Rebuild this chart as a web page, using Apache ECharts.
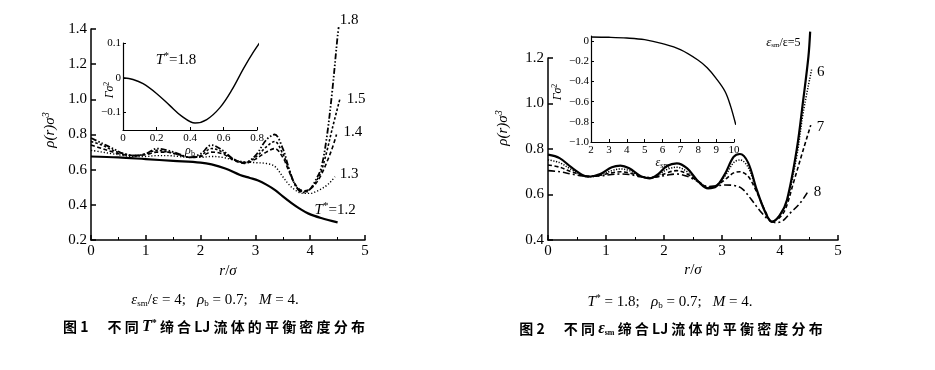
<!DOCTYPE html>
<html><head><meta charset="utf-8">
<script src="https://cdn.jsdelivr.net/npm/echarts@6/dist/echarts.min.js"></script>
<style>html,body{margin:0;padding:0;background:#fff}#c{width:935px;height:370px}</style>
</head><body><div id="c"></div>
<script>
// ---------- Figure 1: different T* ----------
const xTicksMain = [0, 1, 2, 3, 4, 5];
const yTicksFig1 = [0.2, 0.4, 0.6, 0.8, 1.0, 1.2, 1.4];
const rT12 = [0, 0.5, 1.0, 1.5, 2.0, 2.2, 2.45, 2.72, 2.9, 3.05, 3.2, 3.36, 3.5, 3.66, 3.8, 3.97, 4.2, 4.5];
const rhoT12 = [0.675, 0.67, 0.66, 0.65, 0.64, 0.63, 0.607, 0.57, 0.553, 0.538, 0.515, 0.484, 0.448, 0.41, 0.38, 0.35, 0.325, 0.30];
const rT13 = [0, 0.2, 0.4, 0.6, 0.8, 1.0, 1.2, 1.4, 1.6, 1.8, 2.0, 2.2, 2.4, 2.6, 2.8, 3.0, 3.2, 3.35, 3.5, 3.6, 3.7, 3.8, 3.9, 4.0, 4.1, 4.2, 4.3, 4.4, 4.45];
const rhoT13 = [0.71, 0.70, 0.69, 0.68, 0.675, 0.675, 0.68, 0.68, 0.675, 0.67, 0.67, 0.675, 0.67, 0.655, 0.645, 0.64, 0.635, 0.62, 0.56, 0.52, 0.49, 0.47, 0.465, 0.465, 0.475, 0.49, 0.51, 0.54, 0.56];
const rT14 = [0, 0.2, 0.4, 0.6, 0.8, 1.0, 1.2, 1.4, 1.6, 1.8, 2.0, 2.2, 2.4, 2.6, 2.8, 3.0, 3.2, 3.35, 3.5, 3.6, 3.7, 3.8, 3.9, 4.0, 4.1, 4.2, 4.3, 4.4, 4.48];
const rhoT14 = [0.74, 0.72, 0.70, 0.685, 0.68, 0.685, 0.70, 0.70, 0.685, 0.67, 0.675, 0.70, 0.69, 0.655, 0.635, 0.66, 0.70, 0.72, 0.67, 0.60, 0.53, 0.49, 0.48, 0.49, 0.52, 0.57, 0.64, 0.72, 0.80];
const rT15 = [0, 0.2, 0.4, 0.6, 0.8, 1.0, 1.2, 1.4, 1.6, 1.8, 2.0, 2.2, 2.4, 2.6, 2.8, 3.0, 3.2, 3.35, 3.5, 3.6, 3.7, 3.8, 3.9, 4.0, 4.1, 4.2, 4.3, 4.4, 4.54];
const rhoT15 = [0.76, 0.74, 0.71, 0.69, 0.68, 0.69, 0.71, 0.70, 0.685, 0.67, 0.68, 0.72, 0.70, 0.66, 0.64, 0.67, 0.73, 0.76, 0.69, 0.61, 0.53, 0.485, 0.475, 0.49, 0.53, 0.59, 0.70, 0.83, 1.0];
const rT18 = [0, 0.2, 0.4, 0.6, 0.8, 1.0, 1.2, 1.4, 1.6, 1.8, 2.0, 2.2, 2.4, 2.6, 2.8, 3.0, 3.2, 3.35, 3.5, 3.6, 3.7, 3.8, 3.9, 4.0, 4.1, 4.2, 4.3, 4.4, 4.5, 4.52];
const rhoT18 = [0.78, 0.75, 0.72, 0.69, 0.68, 0.69, 0.72, 0.71, 0.69, 0.67, 0.69, 0.74, 0.71, 0.66, 0.64, 0.68, 0.77, 0.80, 0.72, 0.62, 0.53, 0.48, 0.47, 0.49, 0.54, 0.61, 0.78, 1.04, 1.36, 1.41];
// inset 1: Gamma vs rho_b
const inset1XTicks = [0, 0.2, 0.4, 0.6, 0.8];
const inset1YTicks = [-0.1, 0, 0.1];
const rhoB = [0, 0.06, 0.12, 0.2, 0.28, 0.35, 0.43, 0.5, 0.58, 0.65, 0.72, 0.78, 0.83];
const gamma1 = [0, -0.005, -0.017, -0.045, -0.08, -0.11, -0.13, -0.12, -0.085, -0.035, 0.027, 0.075, 0.11];

// ---------- Figure 2: different eps_sm ----------
const yTicksFig2 = [0.4, 0.6, 0.8, 1.0, 1.2];
const rE5 = [0, 0.2, 0.4, 0.6, 0.7, 0.9, 1.1, 1.25, 1.4, 1.6, 1.75, 1.9, 2.05, 2.22, 2.4, 2.6, 2.76, 2.9, 3.05, 3.2, 3.31, 3.45, 3.6, 3.75, 3.86, 4.0, 4.12, 4.29, 4.4, 4.49, 4.52];
const rhoE5 = [0.775, 0.76, 0.72, 0.685, 0.678, 0.69, 0.72, 0.727, 0.715, 0.68, 0.671, 0.69, 0.725, 0.737, 0.715, 0.655, 0.627, 0.635, 0.69, 0.765, 0.778, 0.74, 0.62, 0.52, 0.48, 0.51, 0.576, 0.80, 1.015, 1.206, 1.316];
const rE6 = [0, 0.2, 0.4, 0.6, 0.7, 0.9, 1.1, 1.25, 1.4, 1.6, 1.75, 1.9, 2.05, 2.22, 2.4, 2.6, 2.76, 2.9, 3.05, 3.2, 3.31, 3.45, 3.6, 3.75, 3.86, 4.0, 4.12, 4.29, 4.4, 4.55];
const rhoE6 = [0.752, 0.74, 0.71, 0.685, 0.678, 0.685, 0.705, 0.712, 0.705, 0.68, 0.672, 0.685, 0.71, 0.72, 0.70, 0.655, 0.63, 0.64, 0.68, 0.74, 0.752, 0.72, 0.615, 0.52, 0.48, 0.51, 0.57, 0.77, 0.96, 1.155];
const rE7 = [0, 0.2, 0.4, 0.6, 0.7, 0.9, 1.1, 1.25, 1.4, 1.6, 1.75, 1.9, 2.05, 2.22, 2.4, 2.6, 2.76, 2.9, 3.05, 3.2, 3.31, 3.45, 3.6, 3.75, 3.86, 4.0, 4.1, 4.23, 4.4, 4.53];
const rhoE7 = [0.73, 0.72, 0.70, 0.685, 0.68, 0.685, 0.695, 0.70, 0.695, 0.68, 0.673, 0.68, 0.695, 0.705, 0.69, 0.655, 0.632, 0.64, 0.665, 0.695, 0.70, 0.68, 0.61, 0.525, 0.482, 0.50, 0.54, 0.65, 0.796, 0.905];
const rE8 = [0, 0.2, 0.4, 0.6, 0.7, 0.9, 1.1, 1.25, 1.4, 1.6, 1.75, 1.9, 2.05, 2.22, 2.4, 2.6, 2.76, 2.9, 3.05, 3.2, 3.35, 3.5, 3.65, 3.8, 3.94, 4.05, 4.17, 4.34, 4.48];
const rhoE8 = [0.705, 0.70, 0.69, 0.682, 0.68, 0.682, 0.688, 0.69, 0.688, 0.678, 0.675, 0.678, 0.685, 0.69, 0.68, 0.655, 0.635, 0.638, 0.642, 0.64, 0.625, 0.58, 0.53, 0.49, 0.476, 0.485, 0.517, 0.56, 0.612];
// inset 2: Gamma vs eps_sm
const inset2XTicks = [2, 3, 4, 5, 6, 7, 8, 9, 10];
const inset2YTicks = [-1.0, -0.8, -0.6, -0.4, -0.2, 0];
const epsSm = [2, 3, 4, 5, 6, 7, 8, 8.5, 9, 9.5, 9.8, 10.1];
const gamma2 = [0.04, 0.037, 0.03, 0.014, -0.026, -0.085, -0.19, -0.265, -0.37, -0.50, -0.64, -0.83];

const pairs = (r, v) => r.map((x, i) => [x, v[i]]);
const SERIF = '"Liberation Serif","DejaVu Serif",serif';
const CJK = '"Noto Sans CJK SC",sans-serif';
const minus = s => String(s).replace('-', '\u2212');

function mainAxes(gridIndex, yTicks, ymin, ymax) {
  return {
    x: {
      type: 'value', gridIndex, min: 0, max: 5, interval: 1,
      axisLine: { onZero: false, lineStyle: { color: '#000', width: 1.5 } },
      axisTick: { inside: true, length: 5, lineStyle: { color: '#000', width: 1.5 } },
      minorTick: { show: true, splitNumber: 2, length: 3, lineStyle: { color: '#000' } },
      splitLine: { show: false },
      axisLabel: { fontFamily: SERIF, fontSize: 15, color: '#000', margin: 4, showMinLabel: true, showMaxLabel: true }
    },
    y: {
      type: 'value', gridIndex, min: ymin, max: ymax, interval: 0.2,
      axisLine: { show: true, onZero: false, lineStyle: { color: '#000', width: 1.5 } },
      axisTick: { show: true, inside: true, length: 5, lineStyle: { color: '#000', width: 1.5 } },
      splitLine: { show: false },
      axisLabel: { fontFamily: SERIF, fontSize: 15, color: '#000', margin: 4, formatter: v => v.toFixed(1) }
    }
  };
}
const m1 = mainAxes(0, yTicksFig1, 0.2, 1.4);
const m2 = mainAxes(2, yTicksFig2, 0.4, 1.2);

const insetX1 = {
  type: 'value', gridIndex: 1, min: 0, max: 0.8, interval: 0.2,
  axisLine: { onZero: false, lineStyle: { color: '#000', width: 1.2 } },
  axisTick: { inside: true, length: 3, lineStyle: { color: '#000' } },
  splitLine: { show: false },
  axisLabel: { fontFamily: SERIF, fontSize: 11, color: '#000', margin: 3, customValues: inset1XTicks, formatter: v => String(v) },
  name: '{e|ρ}{s|b}', nameLocation: 'middle', nameGap: 11,
  nameTextStyle: { rich: { e: { fontFamily: SERIF, fontStyle: 'italic', fontSize: 12, color: '#000' }, s: { fontFamily: SERIF, fontSize: 8, color: '#000', padding: [6, 0, 0, 0] } } }
};
const insetY1 = {
  type: 'value', gridIndex: 1, min: -0.15, max: 0.1,
  axisLine: { show: true, onZero: false, lineStyle: { color: '#000', width: 1.2 } },
  axisTick: { show: true, inside: true, length: 3, customValues: inset1YTicks, lineStyle: { color: '#000' } },
  splitLine: { show: false },
  axisLabel: { fontFamily: SERIF, fontSize: 11, color: '#000', margin: 2, customValues: inset1YTicks, formatter: v => v === 0 ? '0' : minus(v.toFixed(1)) }
};
const insetX2 = {
  type: 'value', gridIndex: 3, min: 2, max: 10, interval: 1,
  axisLine: { onZero: false, lineStyle: { color: '#000', width: 1.2 } },
  axisTick: { inside: true, length: 3, lineStyle: { color: '#000' } },
  splitLine: { show: false },
  axisLabel: { fontFamily: SERIF, fontSize: 11, color: '#000', margin: 3, customValues: inset2XTicks, formatter: v => String(v) },
  name: '{e|ε}{s|sm}', nameLocation: 'middle', nameGap: 14,
  nameTextStyle: { rich: { e: { fontFamily: SERIF, fontStyle: 'italic', fontSize: 12, color: '#000' }, s: { fontFamily: SERIF, fontSize: 8, color: '#000', padding: [6, 0, 0, 0] } } }
};
const insetY2 = {
  type: 'value', gridIndex: 3, min: -1.0, max: 0.05,
  axisLine: { show: true, onZero: false, lineStyle: { color: '#000', width: 1.2 } },
  axisTick: { show: true, inside: true, length: 3, customValues: inset2YTicks, lineStyle: { color: '#000' } },
  splitLine: { show: false },
  axisLabel: { fontFamily: SERIF, fontSize: 11, color: '#000', margin: 2, customValues: inset2YTicks, formatter: v => Math.abs(v) < 1e-9 ? '0' : minus(v.toFixed(1)) }
};

const lblRich = {
  n: { fontFamily: SERIF, fontSize: 15, color: '#000' },
  i: { fontFamily: SERIF, fontSize: 15, fontStyle: 'italic', color: '#000' },
  sup: { fontFamily: SERIF, fontSize: 11, color: '#000', padding: [0, 0, 8, 0] },
  e: { fontFamily: SERIF, fontSize: 13, fontStyle: 'italic', color: '#000' },
  s: { fontFamily: SERIF, fontSize: 7, color: '#000', padding: [5, 0, 0, 0] },
  n2: { fontFamily: SERIF, fontSize: 12, color: '#000' }
};
function line(name, x, y, data, style, width, label, offset) {
  return {
    type: 'line', name, xAxisIndex: x, yAxisIndex: y, data, smooth: 0.35, symbol: 'none', clip: false,
    lineStyle: { color: '#000', width, type: style },
    endLabel: label ? { show: true, formatter: label, rich: lblRich, offset: offset || [0, 0], distance: 3 } : { show: false },
    z: 3
  };
}

const series = [
  line('T12', 0, 0, pairs(rT12, rhoT12), 'solid', 2.2, '{i|T}{sup|*}{n|=1.2}', [-26, -12]),
  line('T13', 0, 0, pairs(rT13, rhoT13), [1.2, 2], 1.4, '{n|1.3}', [2, -3]),
  line('T14', 0, 0, pairs(rT14, rhoT14), [4, 2.5], 1.6, '{n|1.4}', [4, -2]),
  line('T15', 0, 0, pairs(rT15, rhoT15), [2.5, 2], 1.6, '{n|1.5}', [4, 0]),
  line('T18', 0, 0, pairs(rT18, rhoT18), [6, 2, 1.5, 2, 1.5, 2], 1.8, '{n|1.8}', [-2, -7]),
  line('G1', 1, 1, pairs(rhoB, gamma1), 'solid', 1.4, null),
  line('E5', 2, 2, pairs(rE5, rhoE5), 'solid', 2.2, '{e|ε}{s|sm}{n2|/ε=5}', [-47, 11]),
  line('E6', 2, 2, pairs(rE6, rhoE6), [1.2, 1.5], 1.5, '{n|6}', [2, 4]),
  line('E7', 2, 2, pairs(rE7, rhoE7), [4, 2.5], 1.6, '{n|7}', [3, 2]),
  line('E8', 2, 2, pairs(rE8, rhoE8), [7, 3, 2, 3], 1.6, '{n|8}', [3, 0]),
  line('G2', 3, 3, pairs(epsSm, gamma2), 'solid', 1.4, null)
];

const chart = echarts.init(document.getElementById('c'), null, { renderer: 'canvas' });
const capRich = {
  e: { fontFamily: SERIF, fontSize: 15, fontStyle: 'italic', fill: '#000' },
  s: { fontFamily: SERIF, fontSize: 9, fill: '#000', padding: [7, 0, 0, 0] },
  n: { fontFamily: SERIF, fontSize: 15, fill: '#000' },
  i: { fontFamily: SERIF, fontSize: 15, fontStyle: 'italic', fill: '#000' },
  sup: { fontFamily: SERIF, fontSize: 10, fill: '#000', padding: [0, 0, 8, 0] },
  c: { fontFamily: CJK, fontSize: 14, fontWeight: 'bold', fill: '#000' },
  ci: { fontFamily: SERIF, fontSize: 16, fontStyle: 'italic', fontWeight: 'bold', fill: '#000' },
  cs: { fontFamily: SERIF, fontSize: 10, fontWeight: 'bold', fill: '#000', padding: [0, 0, 8, 0] },
  ce: { fontFamily: SERIF, fontSize: 16, fontStyle: 'italic', fontWeight: 'bold', fill: '#000' },
  cb: { fontFamily: SERIF, fontSize: 8, fontWeight: 'bold', fill: '#000', padding: [7, 0, 0, 0] },
  y: { fontFamily: SERIF, fontSize: 15, fontStyle: 'italic', fill: '#000' },
  ys: { fontFamily: SERIF, fontSize: 10, fontStyle: 'italic', fill: '#000', padding: [0, 0, 7, 0] },
  g: { fontFamily: SERIF, fontSize: 12, fontStyle: 'italic', fill: '#000' },
  gs: { fontFamily: SERIF, fontSize: 8, fill: '#000', padding: [0, 0, 6, 0] }
};
function txt(x, y, text, rot) {
  return { type: 'text', x, y, rotation: rot || 0, style: { text, rich: capRich, align: 'center', verticalAlign: 'middle', fill: '#000' } };
}
chart.setOption({
  animation: false,
  backgroundColor: '#fff',
  grid: [
    { left: 91, top: 29, width: 274, height: 211, containLabel: false },
    { left: 123, top: 43, width: 134, height: 87, containLabel: false },
    { left: 548, top: 58, width: 290, height: 182, containLabel: false },
    { left: 591, top: 36, width: 143, height: 106, containLabel: false }
  ],
  xAxis: [
    Object.assign({}, m1.x, { name: '{i|r}{n|/}{i|σ}', nameLocation: 'middle', nameGap: 23, nameTextStyle: { rich: lblRich } }),
    insetX1,
    Object.assign({}, m2.x, { name: '{i|r}{n|/}{i|σ}', nameLocation: 'middle', nameGap: 23, nameTextStyle: { rich: lblRich } }),
    insetX2
  ],
  yAxis: [m1.y, insetY1, m2.y, insetY2],
  series,
  graphic: [
    txt(50, 130, '{y|ρ(r)σ}{ys|3}', Math.PI / 2),
    txt(503, 128, '{y|ρ(r)σ}{ys|3}', Math.PI / 2),
    txt(110, 90, '{g|Γσ}{gs|2}', Math.PI / 2),
    txt(558, 92, '{g|Γσ}{gs|2}', Math.PI / 2),
    txt(176, 60, '{i|T}{sup|*}{n|=1.8}'),
    txt(215, 300, '{e|ε}{s|sm}{n|/ε = 4;   }{e|ρ}{s|b}{n| = 0.7;   }{i|M}{n| = 4.}'),
    txt(670, 302, '{i|T}{sup|*}{n| = 1.8;   }{e|ρ}{s|b}{n| = 0.7;   }{i|M}{n| = 4.}'),
    txt(214, 327, '{c|图 1      不 同 }{ci|T}{cs|*}{c| 缔 合 LJ 流 体 的 平 衡 密 度 分 布}'),
    txt(671, 329, '{c|图 2      不 同 }{ce|ε}{cb|sm}{c| 缔 合 LJ 流 体 的 平 衡 密 度 分 布}')
  ]
});
</script></body></html>
